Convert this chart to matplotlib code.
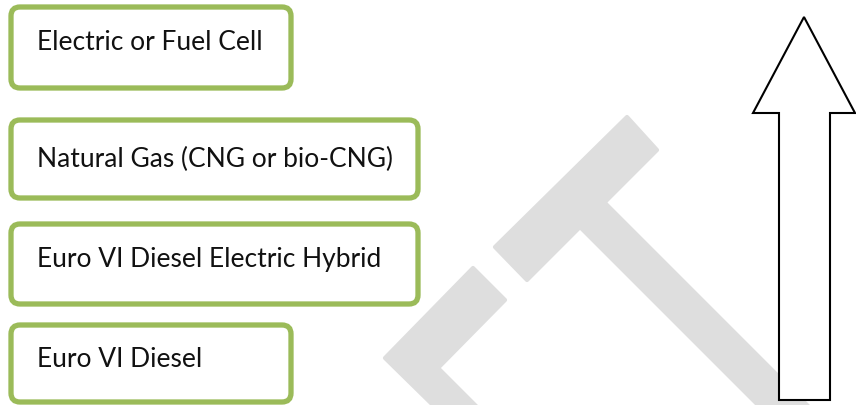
import matplotlib.pyplot as plt
from matplotlib.patches import FancyBboxPatch, Polygon

# fuel options, lowest to highest
labels = ['Electric or Fuel Cell', 'Natural Gas (CNG or bio-CNG)',
          'Euro VI Diesel Electric Hybrid', 'Euro VI Diesel']
box_left = [11, 11, 11, 11]
box_right = [291, 418, 418, 291]
box_top = [7, 120, 224, 325]
box_bottom = [88, 198, 304, 402]
text_base = [50, 167, 267, 367]

green = '#9bbb59'
grey = '#dedede'

fig = plt.figure(figsize=(8.56, 4.05), dpi=100)
ax = fig.add_axes([0, 0, 1, 1])
ax.set_xlim(0, 856)
ax.set_ylim(405, 0)
ax.axis('off')

# watermark shapes
bar = [(627, 117), (657, 150), (527, 280), (495, 247)]
stem = [(605, 203), (812, 410), (763, 410), (580, 227)]
chev = [(473, 268), (505, 300), (438, 368), (480, 410), (438, 410), (385, 358)]
for pts in (bar, stem, chev):
    ax.add_patch(Polygon(pts, closed=True, facecolor=grey, edgecolor=grey,
                         linewidth=3, joinstyle='round', zorder=1))

for i, lab in enumerate(labels):
    x0, x1 = box_left[i], box_right[i]
    y0, y1 = box_top[i], box_bottom[i]
    ax.add_patch(FancyBboxPatch((x0, y0), x1 - x0, y1 - y0,
                                boxstyle='round,pad=0,rounding_size=9',
                                facecolor='white', edgecolor=green,
                                linewidth=3.8, zorder=2))
    ax.text(37, text_base[i], lab, fontsize=19, family='Lato',
            va='baseline', ha='left', color='#111111', zorder=3)

# upward arrow
arrow = [(804, 17), (855, 113), (830, 113), (830, 400), (779, 400),
         (779, 113), (753, 113)]
ax.add_patch(Polygon(arrow, closed=True, facecolor='white',
                     edgecolor='black', linewidth=1.5, zorder=4))

fig.savefig('out.png', dpi=100)
